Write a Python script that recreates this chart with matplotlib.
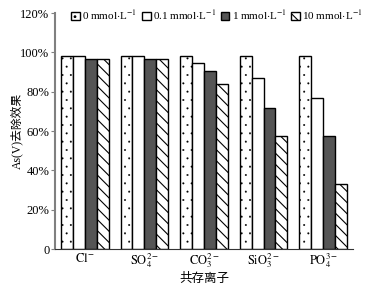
import numpy as np
import matplotlib
matplotlib.use("Agg")
import matplotlib.pyplot as plt
from matplotlib.ticker import FuncFormatter

plt.rcParams['font.family'] = ['Liberation Serif', 'Noto Sans CJK SC']
plt.rcParams['mathtext.fontset'] = 'stix'

# data
ions = [r'$\mathrm{Cl^{-}}$', r'$\mathrm{SO_4^{2-}}$', r'$\mathrm{CO_3^{2-}}$',
        r'$\mathrm{SiO_3^{2-}}$', r'$\mathrm{PO_4^{3-}}$']
series_names = [r'0 mmol$\cdot$L$^{-1}$', r'0.1 mmol$\cdot$L$^{-1}$',
                r'1 mmol$\cdot$L$^{-1}$', r'10 mmol$\cdot$L$^{-1}$']
c0 = [98.2, 98.2, 98.2, 98.2, 98.2]
c01 = [97.9, 97.9, 94.8, 86.9, 77.0]
c1 = [96.7, 96.7, 90.7, 71.6, 57.7]
c10 = [96.5, 96.5, 83.8, 57.5, 33.0]
vals = [c0, c01, c1, c10]

colors = ['white', 'white', '#555555', 'white']
hatches = ['..', '', '', '\\\\\\']
hatch_lw = [0.2, 0.8, 0.8, 0.8]

fig = plt.figure(figsize=(3.83, 2.84), dpi=100)
ax = fig.add_axes([0.1436, 0.1232, 0.778, 0.831])

x = np.arange(len(ions))
w = 0.2
for i in range(4):
    plt.rcParams['hatch.linewidth'] = hatch_lw[i]
    ax.bar(x + (i - 1.5) * w, vals[i], width=w, color=colors[i],
           hatch=hatches[i], edgecolor='black', linewidth=1.0,
           label=series_names[i])

ax.set_xlim(-0.5, 4.5)
ax.set_ylim(0, 120)
ax.set_yticks([0, 20, 40, 60, 80, 100, 120])
ax.yaxis.set_major_formatter(FuncFormatter(lambda v, p: '0' if v == 0 else '%d%%' % v))
ax.set_xticks(x)
ax.set_xticklabels(ions)
ax.tick_params(axis='x', length=0, labelsize=9, pad=2)
ax.tick_params(axis='y', length=3, labelsize=9, pad=1, color='gray')

ax.spines['top'].set_visible(False)
ax.spines['right'].set_visible(False)
ax.spines['left'].set_color('gray')
ax.spines['left'].set_linewidth(1.5)
ax.spines['bottom'].set_color('#333333')

ax.set_ylabel('As(V)去除效果', fontsize=8.5, labelpad=-2)
ax.set_xlabel('共存离子', fontsize=9, labelpad=2)

ax.legend(loc='upper left', bbox_to_anchor=(0.04, 1.04), ncol=4, frameon=False,
          fontsize=8, handlelength=0.8, handleheight=0.8, handletextpad=0.2,
          columnspacing=0.4, borderaxespad=0)

fig.savefig('out.png', dpi=100)
